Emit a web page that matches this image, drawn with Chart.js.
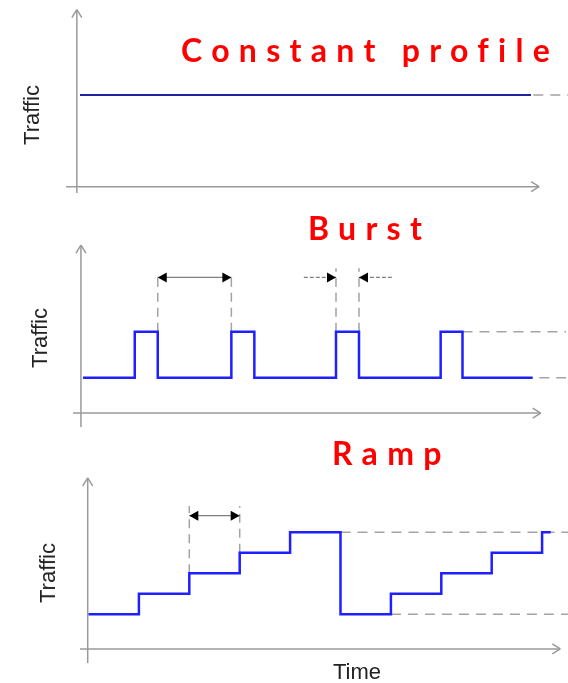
<!DOCTYPE html>
<html>
<head>
<meta charset="utf-8">
<script src="https://cdn.jsdelivr.net/npm/chart.js@4/dist/chart.umd.min.js"></script>
<style>
  body { margin: 0; background: #fff; width: 568px; height: 683px; position: relative; overflow: hidden; font-family: "Liberation Sans", Arial, sans-serif; }
  .panel { position: absolute; left: 0; width: 568px; }
  .title { position: absolute; color: #f00; font: 700 32px Lato, "Open Sans", sans-serif; line-height: 32px; letter-spacing: 9.3px; white-space: nowrap; }
  .lab { position: absolute; font-size: 22px; line-height: 22px; color: #222; white-space: nowrap; transform: translate(-50%, -50%); }
  .lab.rot { transform: translate(-50%, -50%) rotate(-90deg); }
</style>
</head>
<body>
<div class="panel" style="top:0;height:200px"><canvas id="constChart"></canvas></div>
<div class="panel" style="top:200px;height:230px"><canvas id="burstChart"></canvas></div>
<div class="panel" style="top:430px;height:253px"><canvas id="rampChart"></canvas></div>

<div class="title" style="left:181px;top:34px">Constant profile</div>
<div class="title" style="left:308px;top:212px">Burst</div>
<div class="title" style="left:332px;top:437px">Ramp</div>
<div class="lab rot" style="left:32px;top:115px">Traffic</div>
<div class="lab rot" style="left:40px;top:338px">Traffic</div>
<div class="lab rot" style="left:48px;top:573px">Traffic</div>
<div class="lab" style="left:357px;top:672px">Time</div>

<script>
// time / traffic level of each profile (level changes, step-before)
const constTimes = [0, 10]
const constLevels = [1, 1]
const constRef = [10.05, 11]

const burstTimes = [0, 2.25, 3.25, 6.45, 7.45, 11, 12, 15.55, 16.5, 19.55]
const burstLevels = [0, 1, 0, 1, 0, 1, 0, 1, 0, 0]
const burstRefHigh = [16.5, 21]
const burstRefLow = [19.1, 21]
const burstPeriod = [3.25, 6.45]   // marked interval between bursts
const burstWidth = [11, 12]        // marked burst length

const rampTimes = [0, 1, 2, 3, 4, 5, 6, 7, 8, 9, 9.17]
const rampLevels = [0, 1, 2, 3, 4, 0, 1, 2, 3, 4, 4]
const rampRefHigh = [5, 9.7]
const rampRefLow = [6, 9.7]
const rampStep = [2, 3]            // marked step length

const BLUE = '#1f1fff'
const GREY = '#a3a3a3'

const zip = (ts, ys) => ts.map((t, i) => ({ x: t, y: ys[i] }))

function seg(ctx, x1, y1, x2, y2){
  ctx.beginPath(); ctx.moveTo(x1, y1); ctx.lineTo(x2, y2); ctx.stroke()
}

function head(ctx, tx, ty, dir){ // filled triangle, dir = +1 right / -1 left
  ctx.beginPath()
  ctx.moveTo(tx, ty)
  ctx.lineTo(tx - dir * 9, ty - 5)
  ctx.lineTo(tx - dir * 9, ty + 5)
  ctx.closePath()
  ctx.fill()
}

// axes with open arrow tips, dashed guides, dimension arrows
const sketchPlugin = {
  id: 'sketch',
  beforeDatasetsDraw(chart, args, opts){
    const { ctx, scales: { x, y } } = chart
    const a = opts.axes
    ctx.save()
    ctx.strokeStyle = '#9a9a9a'
    ctx.lineWidth = 1.5
    const ax = x.getPixelForValue(a.yAt)
    const ay = y.getPixelForValue(a.xAt)
    const top = y.getPixelForValue(a.yTo)
    const right = x.getPixelForValue(a.xTo)
    seg(ctx, ax, y.getPixelForValue(a.yFrom), ax, top)
    seg(ctx, ax - 5, top + 8, ax, top); seg(ctx, ax, top, ax + 5, top + 8)
    seg(ctx, x.getPixelForValue(a.xFrom), ay, right, ay)
    seg(ctx, right - 8, ay - 5, right, ay); seg(ctx, right, ay, right - 8, ay + 5)

    ctx.strokeStyle = GREY
    ctx.setLineDash([9, 6])
    ;(opts.guides || []).forEach(g => {
      seg(ctx, x.getPixelForValue(g.t), y.getPixelForValue(g.from), x.getPixelForValue(g.t), y.getPixelForValue(g.to))
    })
    ctx.restore()
  },
  afterDatasetsDraw(chart, args, opts){
    const { ctx, scales: { x, y } } = chart
    ctx.save()
    ;(opts.arrows || []).forEach(r => {
      const x1 = x.getPixelForValue(r.from)
      const x2 = x.getPixelForValue(r.to)
      const py = y.getPixelForValue(r.at)
      ctx.strokeStyle = '#808080'
      ctx.lineWidth = 1.3
      ctx.setLineDash(r.dash || [])
      seg(ctx, x1, py, x2, py)
      ctx.setLineDash([])
      ctx.fillStyle = '#000'
      const dir = x2 > x1 ? 1 : -1
      head(ctx, x2, py, dir)
      if (r.both) head(ctx, x1, py, -dir)
    })
    ctx.restore()
  }
}

function makeChart(id, geo, datasets, sketch){
  const el = document.getElementById(id)
  const w = 568, h = el.parentNode.clientHeight
  return new Chart(el, {
    type: 'line',
    data: { datasets },
    options: {
      responsive: true,
      maintainAspectRatio: false,
      animation: false,
      layout: { padding: 0 },
      elements: { point: { radius: 0 } },
      plugins: {
        legend: { display: false },
        tooltip: { enabled: false },
        sketch
      },
      scales: {
        x: { type: 'linear', display: false, min: -geo.left / geo.pxT, max: (w - geo.left) / geo.pxT },
        y: { type: 'linear', display: false, min: -(h - geo.base) / geo.pxL, max: geo.base / geo.pxL }
      }
    },
    plugins: [sketchPlugin]
  })
}

const profile = (data, color, width) => ({ data, borderColor: color, borderWidth: width, stepped: 'before', fill: false })
const refLine = (ts, level) => ({ data: zip(ts, [level, level]), borderColor: GREY, borderWidth: 1.5, borderDash: [10, 7], fill: false })

makeChart('constChart', { left: 80, pxT: 45.1, base: 186.7, pxL: 91.7 }, [
  profile(zip(constTimes, constLevels), '#22229c', 2.2),
  refLine(constRef, 1)
], {
  axes: { yAt: -0.07, yFrom: -0.07, yTo: 1.93, xAt: 0, xFrom: -0.31, xTo: 10.18 }
})

makeChart('burstChart', { left: 83, pxT: 23, base: 177.7, pxL: 46 }, [
  profile(zip(burstTimes, burstLevels), BLUE, 2.5),
  refLine(burstRefHigh, 1),
  refLine(burstRefLow, 0)
], {
  axes: { yAt: -0.09, yFrom: -1.07, yTo: 2.88, xAt: -0.77, xFrom: -0.43, xTo: 19.9 },
  guides: [
    { t: burstPeriod[0], from: 1, to: 2.28 },
    { t: burstPeriod[1], from: 1, to: 2.28 },
    { t: burstWidth[0], from: 1, to: 2.38 },
    { t: burstWidth[1], from: 1, to: 2.38 }
  ],
  arrows: [
    { from: burstPeriod[0], to: burstPeriod[1], at: 2.18, both: true },
    { from: 9.6, to: burstWidth[0], at: 2.18, dash: [4, 2] },
    { from: 13.43, to: burstWidth[1], at: 2.18, dash: [4, 2] }
  ]
})

makeChart('rampChart', { left: 88.5, pxT: 50.4, base: 184.3, pxL: 20.5 }, [
  profile(zip(rampTimes, rampLevels), BLUE, 2.5),
  refLine(rampRefHigh, 4),
  refLine(rampRefLow, 0)
], {
  axes: { yAt: -0.016, yFrom: -2.38, yTo: 6.65, xAt: -1.69, xFrom: -0.17, xTo: 9.36 },
  guides: [
    { t: rampStep[0], from: 2, to: 5.28 },
    { t: rampStep[1], from: 3, to: 5.28 }
  ],
  arrows: [
    { from: rampStep[0], to: rampStep[1], at: 4.81, both: true }
  ]
})
</script>
</body>
</html>
